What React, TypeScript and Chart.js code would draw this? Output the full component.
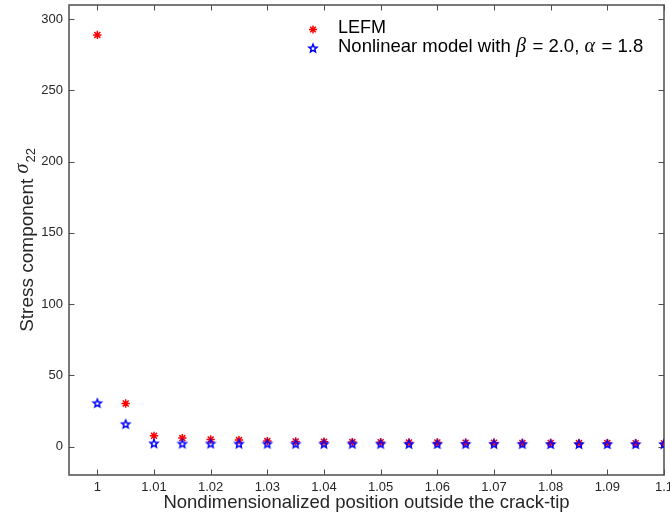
import React, { useEffect, useRef } from 'react';
import { Chart, registerables } from 'chart.js';

Chart.register(...registerables);

// Nondimensionalized position r/a ahead of the crack tip
const positions = [
  1, 1.005, 1.01, 1.015, 1.02, 1.025, 1.03, 1.035, 1.04, 1.045, 1.05,
  1.055, 1.06, 1.065, 1.07, 1.075, 1.08, 1.085, 1.09, 1.095, 1.1,
];
// sigma_22 from linear elastic fracture mechanics
const lefmStress = [
  289, 30.2, 7.5, 5.9, 4.9, 4.5, 3.8, 3.5, 3.3, 3.1, 3.0,
  2.9, 2.8, 2.7, 2.6, 2.5, 2.5, 2.4, 2.4, 2.3, 2.3,
];
// sigma_22 from the nonlinear model (beta = 2.0, alpha = 1.8)
const nonlinearStress = [
  30.6, 15.9, 2.3, 2.2, 2.2, 2.1, 2.1, 2.0, 2.0, 2.0, 2.0,
  1.9, 1.9, 1.9, 1.9, 1.9, 1.8, 1.8, 1.8, 1.8, 1.8,
];

const xTickValues = [1, 1.01, 1.02, 1.03, 1.04, 1.05, 1.06, 1.07, 1.08, 1.09, 1.1];
const xTickLabels = ['1', '1.01', '1.02', '1.03', '1.04', '1.05', '1.06', '1.07', '1.08', '1.09', '1.1'];
const yTickValues = [0, 50, 100, 150, 200, 250, 300];
const yTickLabels = ['0', '50', '100', '150', '200', '250', '300'];

const xTitle = 'Nondimensionalized position outside the crack-tip';
const yTitleMain = 'Stress component ';
const yTitleSymbol = 'σ';
const yTitleSub = '22';
const legendLefm = 'LEFM';
const legendNonlinear = ['Nonlinear model with ', 'β', ' = 2.0, ', 'α', ' = 1.8'];

const SANS = '"Liberation Sans", Arial, Helvetica, sans-serif';
const SERIF = '"Liberation Serif", "Times New Roman", serif';
const FRAME = '#4d4d4d';
const TEXT = '#262626';
const RED = '#ff0000';
const BLUE = '#0000ff';

// Hollow five-pointed star used as a point marker
function makePentagram(color: string, r: number, lw: number): HTMLCanvasElement {
  const size = 2 * Math.ceil(r + lw + 1);
  const c = document.createElement('canvas');
  c.width = size;
  c.height = size;
  const g = c.getContext('2d')!;
  const cx = size / 2;
  const cy = size / 2;
  g.beginPath();
  for (let i = 0; i < 10; i++) {
    const rr = i % 2 === 0 ? r : r * 0.45;
    const ang = -Math.PI / 2 + (i * Math.PI) / 5;
    const px = cx + rr * Math.cos(ang);
    const py = cy + rr * Math.sin(ang) + 0.5;
    if (i === 0) g.moveTo(px, py);
    else g.lineTo(px, py);
  }
  g.closePath();
  g.strokeStyle = color;
  g.lineWidth = lw;
  g.lineJoin = 'miter';
  g.stroke();
  return c;
}

function drawAsterisk(ctx: CanvasRenderingContext2D, x: number, y: number, r: number) {
  ctx.save();
  ctx.strokeStyle = RED;
  ctx.lineWidth = 1.5;
  ctx.beginPath();
  for (let i = 0; i < 4; i++) {
    const a = (i * Math.PI) / 4;
    ctx.moveTo(x - r * Math.cos(a), y - r * Math.sin(a));
    ctx.lineTo(x + r * Math.cos(a), y + r * Math.sin(a));
  }
  ctx.stroke();
  ctx.restore();
}

const framePlugin = {
  id: 'frameAndAnnotations',
  beforeDatasetsDraw(chart: any) {
    const { ctx, chartArea: a, scales } = chart;
    ctx.save();
    ctx.strokeStyle = FRAME;
    ctx.lineWidth = 1.5;
    ctx.strokeRect(a.left, a.top, a.right - a.left, a.bottom - a.top);
    ctx.lineWidth = 1;
    const tl = 5.5;
    ctx.beginPath();
    xTickValues.forEach((v) => {
      const x = Math.round(scales.x.getPixelForValue(v)) + 0.5;
      ctx.moveTo(x, a.bottom);
      ctx.lineTo(x, a.bottom - tl);
      ctx.moveTo(x, a.top);
      ctx.lineTo(x, a.top + tl);
    });
    yTickValues.forEach((v) => {
      const y = Math.round(scales.y.getPixelForValue(v)) + 0.5;
      ctx.moveTo(a.left, y);
      ctx.lineTo(a.left + tl, y);
      ctx.moveTo(a.right, y);
      ctx.lineTo(a.right - tl, y);
    });
    ctx.stroke();
    ctx.restore();
  },
  afterDraw(chart: any) {
    const { ctx, chartArea: a } = chart;
    ctx.save();
    ctx.fillStyle = TEXT;

    // x-axis title
    ctx.font = `18.5px ${SANS}`;
    ctx.textAlign = 'center';
    ctx.textBaseline = 'middle';
    ctx.fillText(xTitle, (a.left + a.right) / 2, 503);

    // y-axis title with subscript
    const mainFont = `19px ${SANS}`;
    const symFont = `italic 20px ${SERIF}`;
    const subFont = `13px ${SANS}`;
    ctx.font = mainFont;
    const wMain = ctx.measureText(yTitleMain).width;
    ctx.font = symFont;
    const wSym = ctx.measureText(yTitleSymbol).width;
    ctx.font = subFont;
    const wSub = ctx.measureText(yTitleSub).width;
    const total = wMain + wSym + 1 + wSub;
    ctx.translate(33, (a.top + a.bottom) / 2);
    ctx.rotate(-Math.PI / 2);
    ctx.textAlign = 'left';
    ctx.textBaseline = 'alphabetic';
    let cx = -total / 2;
    ctx.font = mainFont;
    ctx.fillText(yTitleMain, cx, 0);
    cx += wMain;
    ctx.font = symFont;
    ctx.fillText(yTitleSymbol, cx, -5);
    cx += wSym + 1;
    ctx.font = subFont;
    ctx.fillText(yTitleSub, cx, 2);
    ctx.restore();

    // legend
    ctx.save();
    drawAsterisk(ctx, 313, 29.5, 4);
    const star = chart.data.datasets[0].pointStyle as HTMLCanvasElement;
    ctx.drawImage(star, 313 - star.width / 2, 48 - star.height / 2);
    ctx.fillStyle = '#000000';
    ctx.textAlign = 'left';
    ctx.textBaseline = 'middle';
    ctx.font = `18px ${SANS}`;
    ctx.fillText(legendLefm, 338, 28.5);
    let lx = 338;
    legendNonlinear.forEach((part, i) => {
      ctx.font = i % 2 === 1 ? `italic 20px ${SERIF}` : `18.5px ${SANS}`;
      ctx.fillText(part, lx, 47);
      lx += ctx.measureText(part).width + (i % 2 === 1 ? 1.5 : 0);
    });
    ctx.restore();
  },
};

export default function App() {
  const canvasRef = useRef<HTMLCanvasElement | null>(null);

  useEffect(() => {
    document.body.style.margin = '0';
    document.body.style.overflow = 'hidden';
    const canvas = canvasRef.current;
    if (!canvas) return;

    const pentagram = makePentagram(BLUE, 4.2, 1.5);

    const chart = new Chart(canvas, {
      type: 'scatter',
      data: {
        datasets: [
          {
            label: 'Nonlinear model',
            data: positions.map((x, i) => ({ x, y: nonlinearStress[i] })),
            pointStyle: pentagram as any,
            order: 1,
          },
          {
            label: 'LEFM',
            data: positions.map((x, i) => ({ x, y: lefmStress[i] })),
            pointStyle: 'star',
            pointRadius: 4.2,
            borderColor: RED,
            backgroundColor: RED,
            pointBorderWidth: 1.5,
            order: 2,
          },
        ],
      },
      options: {
        animation: false,
        responsive: false,
        layout: { padding: { top: 5, right: 6, left: 0, bottom: 0 }, autoPadding: false },
        plugins: {
          legend: { display: false },
          tooltip: { enabled: false },
          title: { display: false },
        },
        scales: {
          x: {
            type: 'linear',
            min: 0.995,
            max: 1.1,
            grid: { display: false, drawTicks: false },
            border: { display: false },
            afterBuildTicks: (scale: any) => {
              scale.ticks = xTickValues.map((value) => ({ value }));
            },
            afterFit: (scale: any) => {
              scale.height = 40;
              scale.paddingLeft = 0;
              scale.paddingRight = 0;
            },
            ticks: {
              padding: 5,
              color: TEXT,
              font: { family: SANS, size: 13 },
              maxRotation: 0,
              autoSkip: false,
              callback: (_v: any, i: number) => xTickLabels[i],
            },
          },
          y: {
            type: 'linear',
            min: -20,
            max: 310,
            grid: { display: false, drawTicks: false },
            border: { display: false },
            afterBuildTicks: (scale: any) => {
              scale.ticks = yTickValues.map((value) => ({ value }));
            },
            afterFit: (scale: any) => {
              scale.width = 69;
              scale.paddingTop = 0;
              scale.paddingBottom = 0;
            },
            ticks: {
              padding: 6,
              color: TEXT,
              font: { family: SANS, size: 13 },
              autoSkip: false,
              callback: (_v: any, i: number) => yTickLabels[i],
            },
          },
        },
      },
      plugins: [framePlugin],
    });

    return () => chart.destroy();
  }, []);

  return <canvas ref={canvasRef} width={670} height={515} style={{ display: 'block' }} />;
}
